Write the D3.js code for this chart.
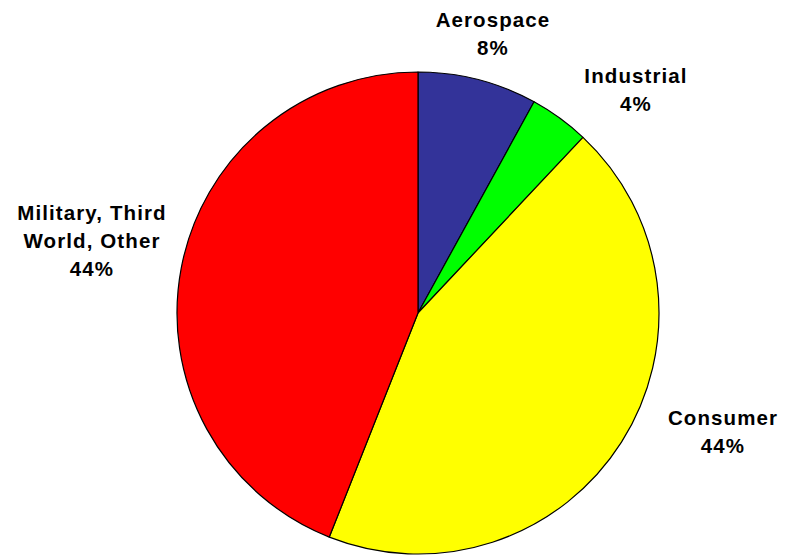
<!DOCTYPE html>
<html>
<head>
<meta charset="utf-8">
<script src="https://cdn.jsdelivr.net/npm/d3@7/dist/d3.min.js"></script>
<style>
  html, body { margin: 0; padding: 0; background: #fff; }
  svg { display: block; }
  text { font-family: "Liberation Sans", Arial, sans-serif; font-weight: bold; font-size: 20.5px; fill: #000; letter-spacing: 1.1px; }
</style>
</head>
<body>
<svg id="chart" width="794" height="555"></svg>
<script>
// Market share by segment, clockwise from 12 o'clock
const categories = ["Aerospace", "Industrial", "Consumer", "Military, Third World, Other"];
const shares = [8, 4, 44, 44];
const colors = ["#333399", "#00ff00", "#ffff00", "#ff0000"];
// Label lines for each slice (name split over lines, then the percentage)
const labelLines = [["Aerospace"], ["Industrial"], ["Consumer"], ["Military, Third", "World, Other"]];
// Where each label block sits (centre x, first baseline y)
const labelPos = [[493, 27], [636, 83], [723, 425], [92, 220]];

const svg = d3.select("#chart");
const cx = 418, cy = 313, r = 241;

const pie = d3.pie().sort(null).value(d => d)(shares);
const arc = d3.arc().innerRadius(0).outerRadius(r);

const g = svg.append("g").attr("transform", `translate(${cx},${cy})`);
g.selectAll("path")
  .data(pie)
  .join("path")
  .attr("d", arc)
  .attr("fill", (d, i) => colors[i])
  .attr("stroke", "#000")
  .attr("stroke-width", 1.2)
  .attr("stroke-linejoin", "round");

const lineH = 28;
categories.forEach((c, i) => {
  const lines = labelLines[i].concat([shares[i] + "%"]);
  const t = svg.append("text")
    .attr("text-anchor", "middle")
    .attr("x", labelPos[i][0])
    .attr("y", labelPos[i][1]);
  lines.forEach((l, j) => {
    t.append("tspan")
      .attr("x", labelPos[i][0])
      .attr("dy", j === 0 ? 0 : lineH)
      .text(l);
  });
});
</script>
</body>
</html>
